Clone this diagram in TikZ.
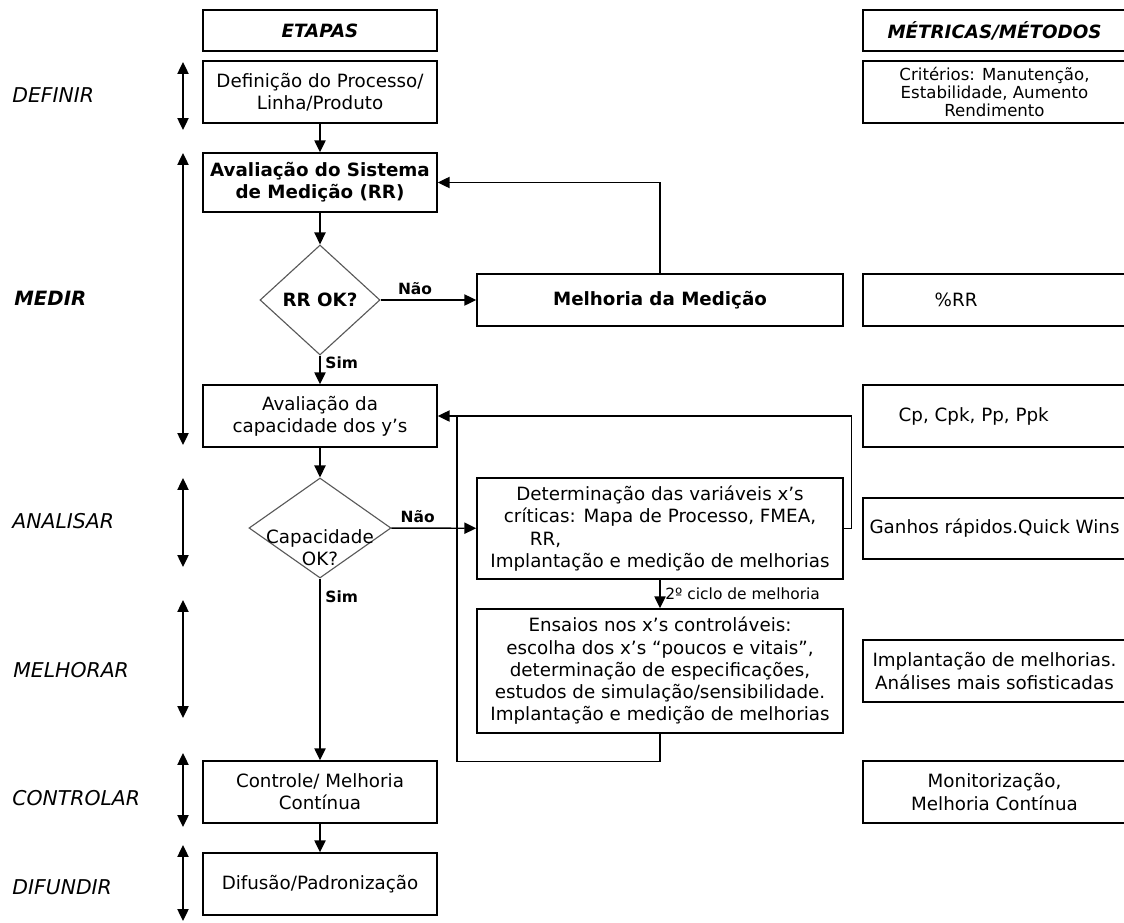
\documentclass[tikz,border=0pt]{standalone}
\usepackage{fontspec}
\setmainfont{DejaVu Sans}
\usetikzlibrary{arrows.meta,shapes.geometric}
\newcommand{\bodysz}{\fontsize{13}{15.8}\selectfont}
\newcommand{\phasesz}{\fontsize{14.5}{17}\selectfont}
\newcommand{\critsz}{\fontsize{11.8}{12.6}\selectfont}
\newcommand{\labsz}{\fontsize{11}{12}\selectfont}

\begin{document}
\begin{tikzpicture}[x=0.025cm,y=-0.025cm,line width=1pt,
  box/.style={draw,rectangle,align=center,inner sep=2pt,font=\bodysz},
  lbox/.style={box,minimum width=5.85cm,minimum height=1.55cm},
  mbox/.style={box,minimum width=9.15cm},
  rbox/.style={box,minimum width=6.575cm,minimum height=1.55cm},
  dec/.style={draw=black!65,line width=0.8pt,diamond,inner sep=0pt},
  arr/.style={-{Triangle[length=8.5pt,width=8pt]}},
  span/.style={{Triangle[length=8.5pt,width=8pt]}-{Triangle[length=8.5pt,width=8pt]}},
  phase/.style={anchor=west,font=\phasesz\itshape},
  yn/.style={font=\labsz\bfseries}]
\useasboundingbox (0,0) rectangle (1124,922);

\node[lbox,minimum height=1.025cm,font=\bodysz\bfseries\itshape] (etapas) at (320,30.5) {ETAPAS};
\node[rbox,minimum height=1.025cm,font=\bodysz\bfseries\itshape] (metricas) at (994.5,30.5) {MÉTRICAS/MÉTODOS};

\node[phase] (definir) at (7,95) {DEFINIR};
\node[phase,font=\fontsize{14}{17}\selectfont\bfseries\itshape] (medir) at (9,298) {MEDIR};
\node[phase] (analisar) at (7,521) {ANALISAR};
\node[phase] (melhorar) at (8,670) {MELHORAR};
\node[phase] (controlar) at (7,798) {CONTROLAR};
\node[phase] (difundir) at (7,887) {DIFUNDIR};

\foreach \a/\b in {62/130,153/445,478/567,600/718,753/827,845/921}
  \draw[span] (183,\a) -- (183,\b);

\node[lbox] (defin) at (320,92) {Definição do Processo/\\Linha/Produto};
\node[lbox,minimum height=1.475cm,font=\bodysz\bfseries] (avsis) at (320,182.5) {Avaliação do Sistema\\de Medição (RR)};
\node[dec,minimum width=3cm,minimum height=2.75cm,font=\bodysz\bfseries] (rrok) at (320,300) {RR OK?};
\node[mbox,minimum height=1.3cm,font=\bodysz\bfseries] (melmed) at (660,300) {Melhoria da Medição};
\node[lbox] (avcap) at (320,416) {Avaliação da\\capacidade dos y’s};
\node[dec,minimum width=3.55cm,minimum height=2.5cm] (capok) at (320,528) {};
\node[align=center,font=\bodysz,inner sep=0pt] (captx) at (320,548) {Capacidade\\OK?};
\node[mbox,minimum height=2.525cm] (determ) at (660,528.5) {Determinação das variáveis x’s\\críticas: Mapa de Processo, FMEA,\\\makebox[6.5cm][l]{RR,}\\Implantação e medição de melhorias};
\node[mbox,minimum height=3.1cm] (ensaios) at (660,671) {Ensaios nos x’s controláveis:\\escolha dos x’s “poucos e vitais”,\\determinação de especificações,\\estudos de simulação/sensibilidade.\\Implantação e medição de melhorias};
\node[lbox] (controle) at (320,792) {Controle/ Melhoria\\Contínua};
\node[lbox] (difusao) at (320,884) {Difusão/Padronização};

\node[rbox,font=\critsz] (criterios) at (994.5,92) {Critérios: Manutenção,\\Estabilidade, Aumento\\Rendimento};
\node[rbox,minimum height=1.3cm] (rrbox) at (994.5,300) {};
\node[anchor=west,font=\bodysz,inner sep=0pt] (rrtxt) at (934,300) {\%RR};
\node[rbox] (cpbox) at (994.5,416) {};
\node[anchor=west,font=\bodysz,inner sep=0pt] (cptxt) at (898,416) {Cp, Cpk, Pp, Ppk};
\node[rbox,minimum height=1.525cm] (ganhos) at (994.5,528.5) {Ganhos rápidos.Quick Wins};
\node[rbox] (implant) at (994.5,671) {Implantação de melhorias.\\Análises mais sofisticadas};
\node[rbox] (monitor) at (994.5,792) {Monitorização,\\Melhoria Contínua};

\draw[arr] (defin) -- (avsis);
\draw[arr] (avsis) -- (rrok);
\draw[arr] (rrok) -- node[yn,above,pos=0.36] (nao1) {Não} (melmed);
\draw[arr] (melmed) |- (avsis);
\draw[arr] (rrok) -- node[yn,right,pos=0.25] (sim1) {Sim} (avcap);
\draw[arr] (avcap) -- (capok);
\draw[arr] (capok) -- node[yn,above,pos=0.31] (nao2) {Não} (determ);
\draw[arr] (capok) -- node[yn,right,pos=0.1] (sim2) {Sim} (controle);
\draw[arr] (determ.east) -- ++(8,0) |- (avcap);
\draw[arr] (determ) -- node[right,font=\labsz] (ciclo) {2º ciclo de melhoria} (ensaios);
\coordinate (join) at (457,416);
\draw (ensaios.south) -- ++(0,28) -| (join);
\draw[arr] (controle) -- (difusao);
\end{tikzpicture}
\end{document}
